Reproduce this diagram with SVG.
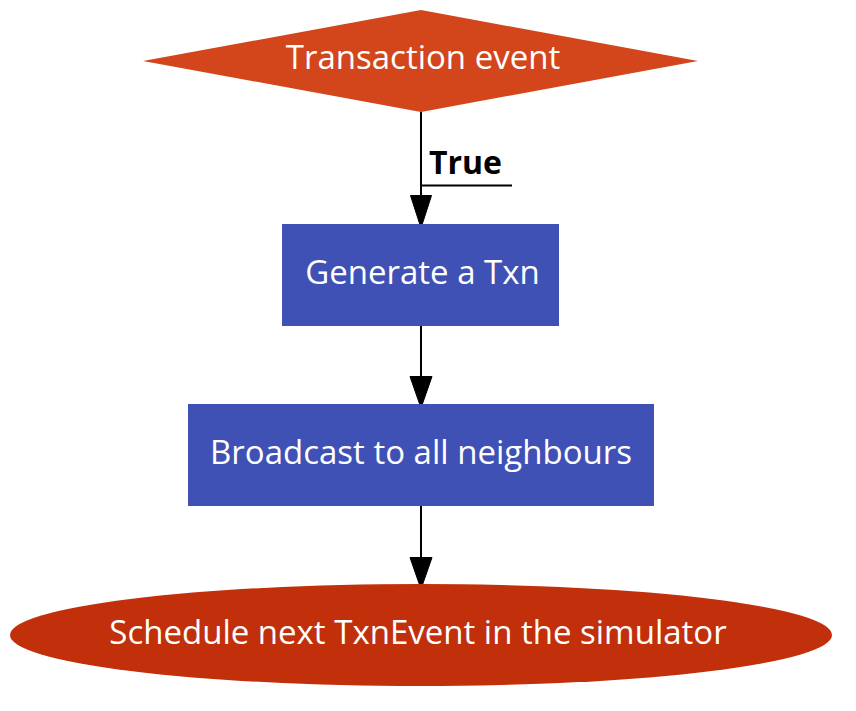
<svg xmlns="http://www.w3.org/2000/svg" width="856" height="711" viewBox="0 0 856 711">
<style>
.lbl{font-family:"Open Sans","Noto Sans",sans-serif;font-size:33px;fill:#ffffff;text-anchor:middle}
.edge{stroke:#000;stroke-width:2;fill:none}
.head{fill:#000;stroke:#000;stroke-width:1}
.elbl{font-family:"Open Sans","Noto Sans",sans-serif;font-size:32px;font-weight:bold;fill:#000}
</style>
<rect width="856" height="711" fill="#ffffff"/>
<g id="connectors">
<path class="edge" d="M421,112 V196"/>
<polygon class="head" points="410.5,195.5 431.5,195.5 421,228"/>
<text class="elbl" x="429" y="174">True</text>
<path d="M422,185.5 H512" stroke="#000" stroke-width="2"/>
<path class="edge" d="M421,326 V377"/>
<polygon class="head" points="410,376.5 432,376.5 421,408"/>
<path class="edge" d="M421,506 V558"/>
<polygon class="head" points="410,557.5 432,557.5 421,589"/>
</g>
<g id="transaction-event">
<polygon points="421,10 698,61 421,112 143,61" fill="#D3461C"/>
<text class="lbl" x="423" y="69">Transaction event</text>
</g>
<g id="generate-txn">
<rect x="282" y="224" width="277" height="102" fill="#3F51B5"/>
<text class="lbl" x="422.5" y="284">Generate a Txn</text>
</g>
<g id="broadcast">
<rect x="188" y="404" width="466" height="102" fill="#3F51B5"/>
<text class="lbl" x="421" y="464">Broadcast to all neighbours</text>
</g>
<g id="schedule">
<ellipse cx="421" cy="635" rx="411" ry="51" fill="#C1300A"/>
<text class="lbl" x="418" y="644">Schedule next TxnEvent in the simulator</text>
</g>
</svg>
